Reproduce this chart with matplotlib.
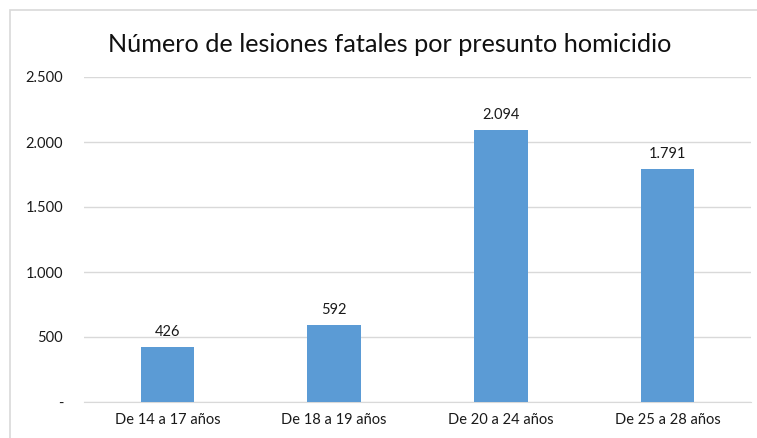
import matplotlib.pyplot as plt
from matplotlib.patches import Rectangle
from matplotlib.ticker import FuncFormatter

# data
categories = ['De 14 a 17 años', 'De 18 a 19 años', 'De 20 a 24 años', 'De 25 a 28 años']
values = [426, 592, 2094, 1791]
yticks = [0, 500, 1000, 1500, 2000, 2500]

plt.rcParams['font.family'] = ['Lato', 'DejaVu Sans']

fig = plt.figure(figsize=(7.57, 4.38), dpi=100)
ax = fig.add_axes([84 / 757, 36 / 438, 667 / 757, 325 / 438])

# outer chart border (open to the right and bottom)
fig.patches.append(Rectangle((9.5 / 757, -0.05), 1.1, (438 - 10.5) / 438 + 0.05,
                             transform=fig.transFigure, fill=False,
                             edgecolor='#d9d9d9', linewidth=1.2))

x = range(len(categories))
bars = ax.bar(x, values, width=0.32, color='#5B9BD5', zorder=3)

def fmt(v, pos=None):
    if v == 0:
        return '-'
    return f'{int(v):,}'.replace(',', '.')

for b, v in zip(bars, values):
    ax.text(b.get_x() + b.get_width() / 2, v + 60, fmt(v),
            ha='center', va='bottom', fontsize=10.5, color='#1a1a1a')

ax.set_xlim(-0.5, len(categories) - 0.5)
ax.set_ylim(0, 2500)
ax.set_yticks(yticks)
ax.yaxis.set_major_formatter(FuncFormatter(fmt))
ax.set_xticks(list(x))
ax.set_xticklabels(categories)
ax.grid(axis='y', color='#d9d9d9', linewidth=1, zorder=0)
for s in ['top', 'right', 'left']:
    ax.spines[s].set_visible(False)
ax.spines['bottom'].set_color('#d9d9d9')
ax.tick_params(axis='both', length=0, labelsize=10.5, colors='#1a1a1a')
ax.tick_params(axis='y', pad=15)
ax.tick_params(axis='x', pad=8)

fig.text(390 / 757, 1 - 45 / 438, 'Número de lesiones fatales por presunto homicidio',
         ha='center', va='center', fontsize=18.2, color='#111111')

plt.savefig('out.png', dpi=100)
plt.close()
